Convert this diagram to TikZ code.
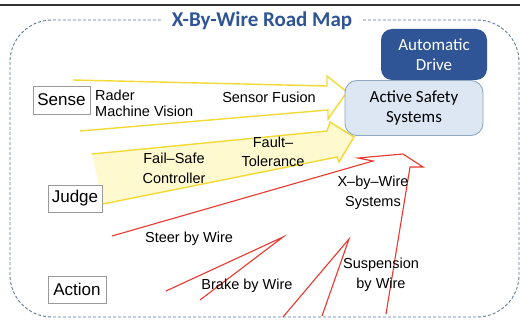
\documentclass[tikz,border=0pt]{standalone}
\usepackage{fontspec}
\usetikzlibrary{shadows}
\setmainfont{Liberation Sans}
\newfontfamily\calibri{Carlito}
\definecolor{titleblue}{HTML}{2F5597}
\definecolor{framegray}{HTML}{5F7C9E}
\definecolor{autoblue}{HTML}{2F5597}
\definecolor{safetyfill}{HTML}{DCE7F3}
\definecolor{safetyline}{HTML}{8FA8C4}
\definecolor{arrowyellow}{HTML}{F2D935}
\definecolor{paleyellow}{HTML}{FEF9CF}
\definecolor{wirered}{HTML}{E8382F}
\definecolor{boxline}{HTML}{9A9A9A}
\tikzset{
  frame/.style={draw=framegray, line width=0.9pt, dash pattern=on 3pt off 2pt},
  titletext/.style={font=\calibri\bfseries\fontsize{21}{24}\selectfont, text=titleblue, fill=white, inner xsep=9pt, inner ysep=2pt},
  stagebox/.style={draw=boxline, line width=0.9pt, fill=white, inner sep=0pt,
    drop shadow={opacity=0.25, shadow xshift=1.2pt, shadow yshift=-1.2pt},
    font=\fontsize{17}{20}\selectfont},
  autobox/.style={fill=autoblue, rounded corners=11pt, inner sep=0pt, text=white, align=center, font=\calibri\fontsize{17}{20}\selectfont},
  safetybox/.style={draw=safetyline, fill=safetyfill, line width=0.9pt, rounded corners=12pt, inner sep=0pt, align=center, font=\calibri\fontsize{17}{19.5}\selectfont},
  lbl/.style={align=center, inner sep=0pt, font=\fontsize{14.5}{19.5}\selectfont},
  fatarrow/.style={draw=arrowyellow, line width=1.4pt, line join=miter},
  wire/.style={draw=wirered, line width=1.1pt, line join=miter}
}
\begin{document}
\begin{tikzpicture}[x=1pt,y=-1pt]
\useasboundingbox (0,0) rectangle (520,321);
\fill[white] (0,0) rectangle (520,321);
% rule across the top
\draw[line width=1.4pt, color=black!80] (0,5) -- (520,5);
% dashed outline of the road map
\draw[frame, rounded corners=42pt] (10,20) rectangle (519,317);
\node[titletext, anchor=base] (title) at (262,27) {X-By-Wire Road Map};

% sensing arrow (open tail)
\draw[fatarrow] (73,80) -- (327,86) -- (327,76) -- (347,92) -- (328,119) -- (328,110) -- (80,131);
% judging arrow, pale filled
\fill[paleyellow] (92,154) -- (327,131) -- (330,122) -- (354,137) -- (339,162) -- (337,157) -- (103,204) -- cycle;
\draw[fatarrow] (92,154) -- (327,131) -- (330,122) -- (354,137) -- (339,162) -- (337,157) -- (103,204);

% x-by-wire arrow
\draw[wire] (112,236) -- (373,161) -- (358,158) -- (403,154) -- (423,167) -- (410,167) -- (386,314);
% brake and suspension spikes
\draw[wire] (166,291) -- (283,237) -- (200,300);
\draw[wire] (283,317) -- (349,239) -- (322,316);

% stage boxes
\node[stagebox, minimum width=57pt, minimum height=28pt] (sense) at (61.5,100) {Sense};
\node[stagebox, minimum width=54pt, minimum height=27pt] (judge) at (75,198.5) {Judge};
\node[stagebox, minimum width=58pt, minimum height=27pt] (action) at (77,289.5) {Action};

% goal boxes
\node[autobox, minimum width=106pt, minimum height=51pt] (auto) at (434,54.5) {Automatic\\Drive};
\node[safetybox, minimum width=138pt, minimum height=55pt] (safety) at (414,108) {Active Safety\\Systems};

% labels
\node[lbl, align=left, anchor=west, font=\fontsize{14.5}{16}\selectfont] (sensors) at (95,103) {Rader\\Machine Vision};
\node[lbl] (fusion) at (269,97) {Sensor Fusion};
\node[lbl] (failsafe) at (174,168.5) {Fail–Safe\\Controller};
\node[lbl] (fault) at (273,152) {Fault–\\Tolerance};
\node[lbl] (xbw) at (373,193) {X–by–Wire\\Systems};
\node[lbl] (steer) at (189,239) {Steer by Wire};
\node[lbl] (brake) at (247,286) {Brake by Wire};
\node[lbl] (susp) at (381,274.5) {Suspension\\by Wire};
\end{tikzpicture}
\end{document}
